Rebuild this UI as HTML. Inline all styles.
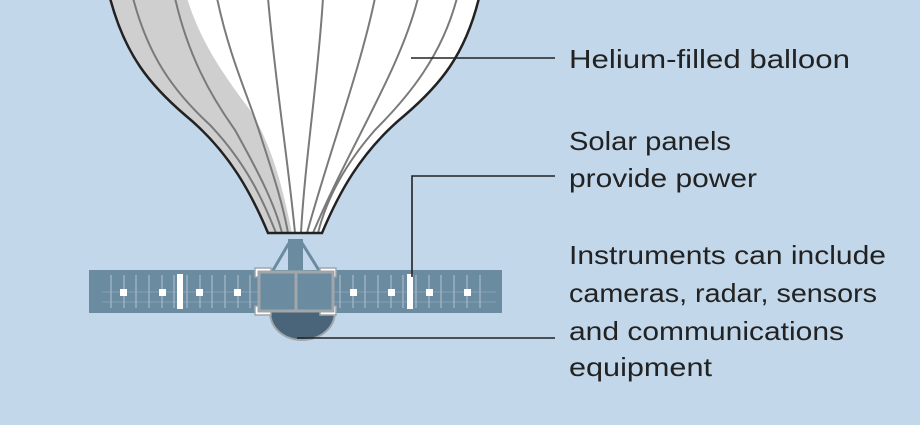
<!DOCTYPE html>
<html><head><style>
html,body{margin:0;padding:0;background:#c2d7ea;}
svg{display:block}
text{font-family:"Liberation Sans",sans-serif;font-size:26px;fill:#222;}
</style></head><body>
<svg width="920" height="425" viewBox="0 0 920 425">
<rect width="920" height="425" fill="#c2d7ea"/>
<!-- balloon -->
<path d="M110,-2 C125,55 150,85 185,115 C230,152 252,195 268,233 L322,233 C338,195 360,152 405,115 C440,85 465,55 479,-2 Z" fill="#fff"/>
<path d="M110,-2 C125,55 150,85 185,115 C230,152 252,195 268,233 L292,233 C285,200 275,150 250,110 C220,70 200,40 187,-2 Z" fill="#cfcfcf"/>
<g fill="none" stroke="#7a7a7a" stroke-width="2">
<path d="M133,-2 C148,55 172,90 210,125 C248,165 265,205 276,233"/>
<path d="M175,-2 C188,55 210,95 235,130 C260,175 275,205 282,233"/>
<path d="M217,-2 C230,60 250,100 262,140 C275,180 283,205 288,233"/>
<path d="M268,-2 C275,80 288,160 295,233"/>
<path d="M323,-2 C318,80 305,160 301,233"/>
<path d="M375,-2 C360,70 330,150 307,233"/>
<path d="M418,-2 C400,70 350,145 313,233"/>
<path d="M457,-2 C442,55 410,95 375,130 C340,170 325,205 318,233"/>
</g>
<path d="M110,-2 C125,55 150,85 185,115 C230,152 252,195 268,233 L322,233 C338,195 360,152 405,115 C440,85 465,55 479,-2" fill="none" stroke="#222" stroke-width="2.5"/>
<!-- stem & struts -->
<rect x="288" y="239" width="15" height="33" fill="#6a8ba0"/>
<path d="M289,243 L272,272 M302,243 L320,272" stroke="#6a8ba0" stroke-width="3"/>
<!-- panels -->
<rect x="89" y="270" width="413" height="43" fill="#6a8ba0"/>
<g stroke="#86a2b5" stroke-width="1">
<path d="M102,292 H496 M102,302 H496"/>
</g>
<g stroke="#a2b8c7" stroke-width="1.3">
<path d="M111,275V308 M124,275V308 M136,275V308 M149,275V308 M162,275V308 M174,275V308 M187,275V308 M200,275V308 M212,275V308 M225,275V308 M238,275V308 M250,275V308"/>
<path d="M340,275V308 M353,275V308 M365,275V308 M378,275V308 M391,275V308 M403,275V308 M416,275V308 M429,275V308 M441,275V308 M454,275V308 M467,275V308 M480,275V308"/>
</g>
<g fill="#fff">
<rect x="120" y="289" width="7" height="7"/><rect x="159" y="289" width="7" height="7"/><rect x="196" y="289" width="7" height="7"/><rect x="234" y="289" width="7" height="7"/>
<rect x="350" y="289" width="7" height="7"/><rect x="388" y="289" width="7" height="7"/><rect x="426" y="289" width="7" height="7"/><rect x="464" y="289" width="7" height="7"/>
<rect x="177" y="274" width="6" height="35"/><rect x="407" y="274" width="6" height="35"/>
</g>
<!-- dome -->
<path d="M270,311 L335,311 C335,330 318,340 302,340 C286,340 270,330 270,311 Z" fill="#4a6579" stroke="#a0a6aa" stroke-width="2"/>
<!-- corner brackets -->
<g fill="#fff" stroke="#a0a6aa" stroke-width="1.5">
<rect x="255" y="268" width="16" height="9"/><rect x="320" y="268" width="16" height="9"/>
<rect x="255" y="306" width="16" height="9"/><rect x="320" y="306" width="16" height="9"/>
</g>
<rect x="259" y="272" width="74" height="39" fill="#6a8ba0" stroke="#a0a6aa" stroke-width="3"/>
<line x1="296" y1="272" x2="296" y2="311" stroke="#a0a6aa" stroke-width="3"/>
<!-- leader lines -->
<g stroke="#222" stroke-width="1.6" fill="none">
<path d="M411,58 H555"/>
<path d="M412,277 V176 H555"/>
<path d="M297,338 H555"/>
</g>
<text x="569" y="68" textLength="281" lengthAdjust="spacingAndGlyphs">Helium-filled balloon</text>
<text x="569" y="150" textLength="162" lengthAdjust="spacingAndGlyphs">Solar panels</text>
<text x="569" y="187" textLength="188" lengthAdjust="spacingAndGlyphs">provide power</text>
<text x="569" y="264" textLength="317" lengthAdjust="spacingAndGlyphs">Instruments can include</text>
<text x="569" y="302" textLength="308" lengthAdjust="spacingAndGlyphs">cameras, radar, sensors</text>
<text x="569" y="340" textLength="275" lengthAdjust="spacingAndGlyphs">and communications</text>
<text x="569" y="376" textLength="143" lengthAdjust="spacingAndGlyphs">equipment</text>
</svg>
</body></html>
